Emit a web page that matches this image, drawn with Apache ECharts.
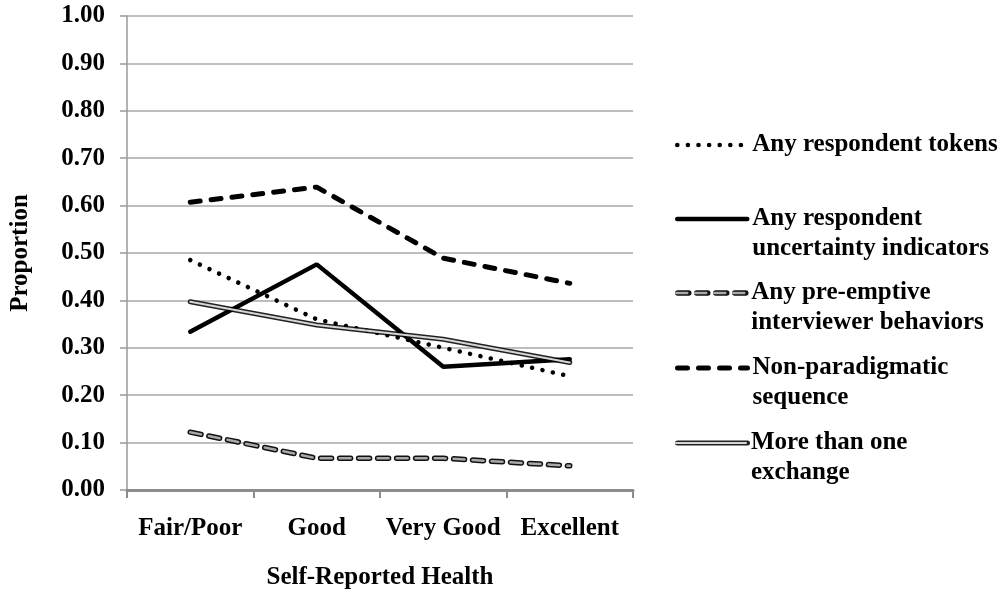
<!DOCTYPE html>
<html><head><meta charset="utf-8">
<script src="https://cdn.jsdelivr.net/npm/echarts@6/dist/echarts.min.js"></script>
<style>html,body{margin:0;padding:0;background:#fff}#c{width:1003px;height:596px}</style>
</head><body><div id="c"></div>
<script>
const categories = ['Fair/Poor', 'Good', 'Very Good', 'Excellent'];
const seriesNames = ['Any respondent tokens', 'Any respondent uncertainty indicators', 'Any pre-emptive interviewer behaviors', 'Non-paradigmatic sequence', 'More than one exchange'];
const legendLabels = ['Any respondent tokens', 'Any respondent\nuncertainty indicators', 'Any pre-emptive\ninterviewer behaviors', 'Non-paradigmatic\nsequence', 'More than one\nexchange'];
const tokens = [0.485, 0.360, 0.300, 0.240];
const uncertainty = [0.334, 0.476, 0.260, 0.276];
const preemptive = [0.122, 0.067, 0.067, 0.051];
const nonParadigmatic = [0.607, 0.639, 0.489, 0.436];
const moreThanOne = [0.397, 0.348, 0.318, 0.269];
const yMin = 0, yMax = 1, yStep = 0.1;

const FONT = 'Liberation Serif';
const txt = { fontFamily: FONT, fontWeight: 'bold', fontSize: 25, color: '#000' };
const values = [tokens, uncertainty, preemptive, nonParadigmatic, moreThanOne];
// main (inner) line styles
const styles = [
  { color: '#000', width: 4.5, type: [0.1, 10.5], cap: 'round' },
  { color: '#000', width: 4.5, type: 'solid', cap: 'round' },
  { color: '#a8a8a8', width: 2.5, type: [11, 8], cap: 'round' },
  { color: '#000', width: 5, type: [10, 11], cap: 'round' },
  { color: '#d6d6d6', width: 2, type: 'solid', cap: 'round' }
];
// outline styles for the double-stroked lines (null = none)
const outlines = [null, null,
  { color: '#111', width: 5.5, type: [11, 8], cap: 'round' },
  null,
  { color: '#222', width: 5, type: 'solid', cap: 'round' }
];
const iconCenters = [145, 219, 293, 368, 443];
const LH = 30;

const series = [];
const legends = [];
seriesNames.forEach((n, i) => {
  if (outlines[i]) {
    const on = n + ' (outline)';
    series.push({ name: on, type: 'line', data: values[i], symbol: 'none', color: outlines[i].color,
      itemStyle: { color: outlines[i].color }, lineStyle: outlines[i], z: 2, silent: true });
    legends.push({
      left: 675, top: iconCenters[i] - LH / 2, padding: 0, z: 4,
      itemWidth: 70, itemHeight: 14, selectedMode: false,
      data: [on], formatter: () => ' ',
      itemStyle: { opacity: 0 },
      lineStyle: { width: outlines[i].width },
      textStyle: Object.assign({}, txt, { lineHeight: LH })
    });
  }
  series.push({ name: n, type: 'line', data: values[i], symbol: 'none', color: styles[i].color,
    itemStyle: { color: styles[i].color }, lineStyle: styles[i], z: 3 });
  const multi = legendLabels[i].indexOf('\n') >= 0;
  legends.push({
    left: 675, top: iconCenters[i] - (multi ? 1.5 * LH : LH / 2), padding: 0, z: 5,
    itemWidth: 70, itemHeight: 14, selectedMode: false,
    data: [n],
    formatter: () => (multi ? '\n' : '') + legendLabels[i],
    itemStyle: { opacity: 0 },
    lineStyle: { width: styles[i].width },
    textStyle: Object.assign({}, txt, { lineHeight: LH })
  });
});

const chart = echarts.init(document.getElementById('c'), null, { renderer: 'canvas' });
chart.setOption({
  animation: false,
  backgroundColor: '#fff',
  grid: { left: 127, right: 370, top: 16, bottom: 106, containLabel: false },
  legend: legends,
  xAxis: {
    type: 'category', data: categories, boundaryGap: true,
    name: 'Self-Reported Health', nameLocation: 'middle', nameGap: 75,
    nameTextStyle: txt,
    axisLine: { show: true, lineStyle: { color: '#8c8c8c', width: 3 } },
    axisTick: { show: true, length: 8, lineStyle: { color: '#8c8c8c', width: 2 } },
    axisLabel: Object.assign({ margin: 26, interval: 0 }, txt),
    splitLine: { show: false }
  },
  yAxis: {
    type: 'value', min: yMin, max: yMax, interval: yStep,
    name: 'Proportion', nameLocation: 'middle', nameGap: 94, nameRotate: 90,
    nameTextStyle: txt,
    axisLine: { show: true, lineStyle: { color: '#999', width: 1.5 } },
    axisTick: { show: true, length: 7, lineStyle: { color: '#999', width: 1.5 } },
    axisLabel: Object.assign({ margin: 22, formatter: v => v.toFixed(2) }, txt),
    splitLine: { show: true, lineStyle: { color: '#a8a8a8', width: 1.5 } }
  },
  series: series
});
</script></body></html>
